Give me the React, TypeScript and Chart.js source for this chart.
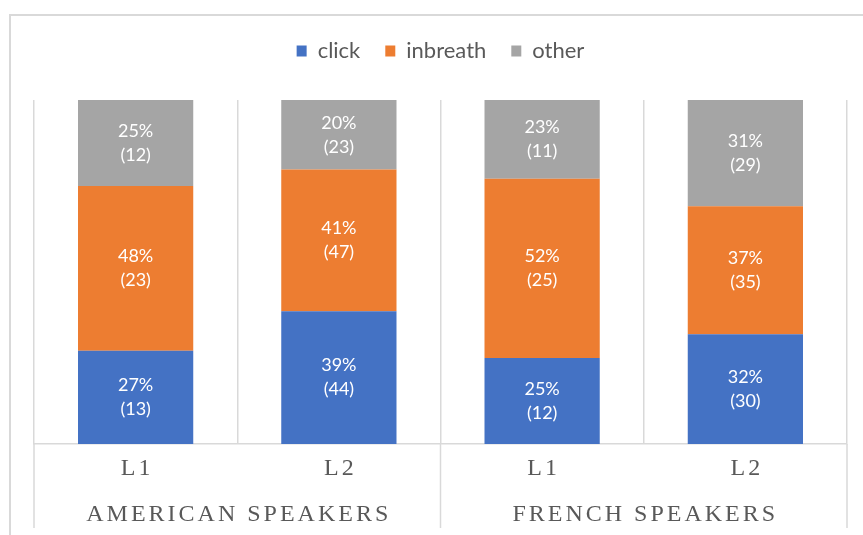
import React, { useEffect, useRef } from "react";
import { Chart, registerables } from "chart.js";

Chart.register(...registerables);

// ---- data ----
const categories = ["L1", "L2", "L1", "L2"];
const groupLabels = ["AMERICAN SPEAKERS", "FRENCH SPEAKERS"];
const seriesNames = ["click", "inbreath", "other"];
const clickCounts = [13, 44, 12, 30];
const inbreathCounts = [23, 47, 25, 35];
const otherCounts = [12, 23, 11, 29];
const seriesColors = ["#4472C4", "#ED7D31", "#A5A5A5"];

const allCounts = [clickCounts, inbreathCounts, otherCounts];
const totals = categories.map((_, i) => allCounts.reduce((s, arr) => s + arr[i], 0));
const shares = allCounts.map((arr) => arr.map((v, i) => (v / totals[i]) * 100));

const GRID = "#d9d9d9";
const TEXT = "#595959";

const labelPlugin = {
  id: "segLabels",
  afterDatasetsDraw(chart: any) {
    const ctx = chart.ctx;
    ctx.save();
    ctx.font = "18px Lato";
    ctx.fillStyle = "#ffffff";
    ctx.textAlign = "center";
    ctx.textBaseline = "middle";
    chart.data.datasets.forEach((ds: any, di: number) => {
      const meta = chart.getDatasetMeta(di);
      meta.data.forEach((el: any, i: number) => {
        const { x, y, base } = el.getProps(["x", "y", "base"], true);
        const cy = (y + base) / 2;
        ctx.fillText(`${Math.round(ds.data[i])}%`, x, cy - 12);
        ctx.fillText(`(${ds.counts[i]})`, x, cy + 12);
      });
    });
    ctx.restore();
  },
};

const axisPlugin = {
  id: "multiAxis",
  afterDraw(chart: any) {
    const ctx = chart.ctx;
    const xs = chart.scales.x;
    const area = chart.chartArea;
    const bottom = area.bottom;
    ctx.save();
    // separators between groups
    ctx.strokeStyle = GRID;
    ctx.lineWidth = 1.5;
    const p = categories.map((_, i) => xs.getPixelForValue(i));
    const mid = (p[1] + p[2]) / 2;
    [area.left, mid, area.right].forEach((x) => {
      ctx.beginPath();
      ctx.moveTo(x, bottom);
      ctx.lineTo(x, bottom + 84);
      ctx.stroke();
    });
    ctx.fillStyle = TEXT;
    ctx.font = "24px 'Liberation Serif'";
    ctx.textAlign = "center";
    ctx.textBaseline = "middle";
    (ctx as any).letterSpacing = "3px";
    categories.forEach((c, i) => {
      ctx.fillText(c, p[i] + 1.5, bottom + 25);
    });
    groupLabels.forEach((g, gi) => {
      const cx = (p[gi * 2] + p[gi * 2 + 1]) / 2;
      ctx.fillText(g, cx + 1.5, bottom + 71);
    });
    ctx.restore();
  },
};

const legendSpacing = {
  id: "legendSpacing",
  beforeInit(chart: any) {
    const orig = chart.legend.fit;
    chart.legend.fit = function () {
      orig.bind(chart.legend)();
      this.height += 28;
    };
  },
};

export default function App() {
  const ref = useRef<HTMLCanvasElement | null>(null);
  useEffect(() => {
    if (!ref.current) return;
    const chart = new Chart(ref.current, {
      type: "bar",
      data: {
        labels: categories,
        datasets: seriesNames.map((name, si) => ({
          label: name,
          data: shares[si],
          counts: allCounts[si],
          backgroundColor: seriesColors[si],
          borderWidth: 0,
          barPercentage: 0.567,
          categoryPercentage: 1,
        })) as any,
      },
      options: {
        responsive: false,
        animation: false,
        layout: { padding: { left: 34, right: 16, top: 15, bottom: 0 } },
        plugins: {
          legend: {
            position: "top",
            labels: {
              boxWidth: 10,
              boxHeight: 11,
              padding: 25,
              color: TEXT,
              font: { family: "Lato", size: 22 },
            },
          },
          tooltip: { enabled: false },
        },
        scales: {
          x: {
            stacked: true,
            ticks: { display: false },
            grid: { offset: true, color: GRID, lineWidth: 1.5, drawTicks: false },
            border: { color: GRID, width: 1.5 },
            afterFit: (scale: any) => {
              scale.height = 91;
            },
          },
          y: {
            stacked: true,
            display: false,
            min: 0,
            max: 100,
          },
        },
      },
      plugins: [labelPlugin, axisPlugin, legendSpacing],
    });
    return () => chart.destroy();
  }, []);

  return (
    <div
      style={{
        position: "fixed",
        left: 0,
        top: 0,
        width: 863,
        height: 535,
        overflow: "hidden",
        background: "#ffffff",
      }}
    >
      <div
        style={{
          position: "absolute",
          left: 9,
          top: 14,
          width: 1000,
          height: 1000,
          border: `2px solid ${GRID}`,
        }}
      />
      <canvas
        ref={ref}
        width={863}
        height={535}
        style={{ position: "absolute", left: 0, top: 0 }}
      />
    </div>
  );
}
